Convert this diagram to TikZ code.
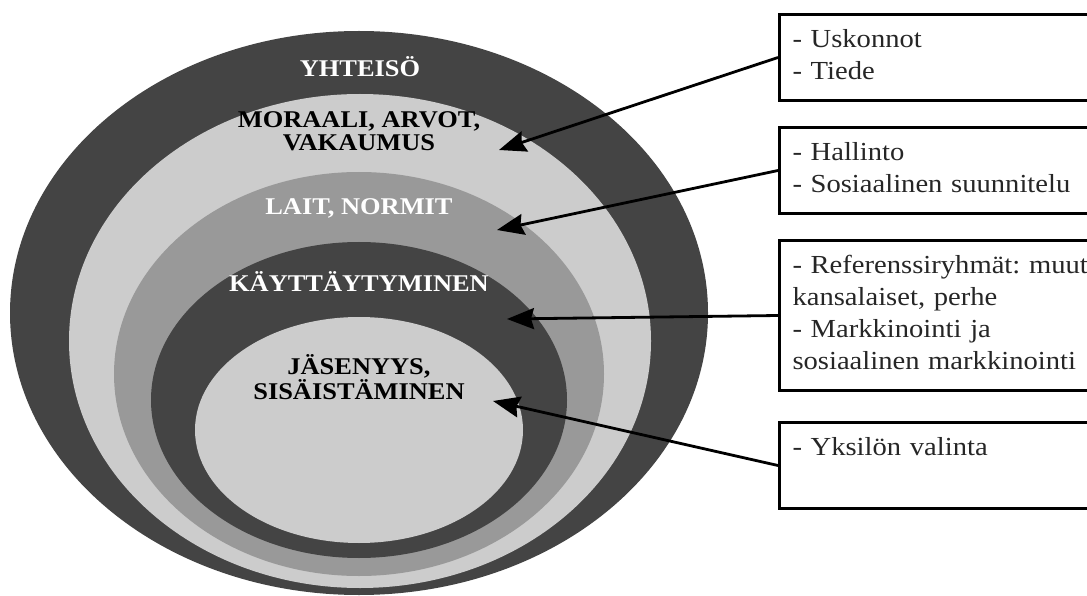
\documentclass[tikz,border=0pt]{standalone}
\usepackage{fontspec}
\setmainfont{Liberation Serif}[FakeStretch=1.1]
\usetikzlibrary{arrows.meta}
\definecolor{ringdark}{RGB}{68,68,68}
\definecolor{ringmid}{RGB}{153,153,153}
\definecolor{ringlight}{RGB}{204,204,204}
\frenchspacing
\begin{document}
\begin{tikzpicture}[x=1pt,y=-1pt]
	\tikzstyle{ringtext}=[font=\bfseries\fontsize{24}{23}\selectfont,align=center,inner sep=0pt]
	\tikzstyle{infobox}=[rectangle,draw,line width=3pt,anchor=north west,align=left,text width=320pt,inner xsep=13pt,inner ysep=11pt,font=\fontsize{26}{32}\selectfont,text=black!85]
	\tikzstyle{pointer}=[line width=2.8pt,-{Stealth[length=27pt,width=21pt,inset=3pt]}]
	\useasboundingbox (0,0) rectangle (1087,596);
	\clip (0,0) rectangle (1087,596);
	\fill[ringdark] (359,313) ellipse [x radius=349,y radius=282];
	\fill[ringlight] (360,341) ellipse [x radius=291,y radius=247];
	\fill[ringmid] (359,374) ellipse [x radius=245,y radius=202];
	\fill[ringdark] (359,400) ellipse [x radius=208,y radius=158];
	\fill[ringlight] (359,430) ellipse [x radius=164,y radius=113];
	\node[ringtext,text=white] (yhteiso) at (360,67) {YHTEISÖ};
	\node[ringtext] (moraali) at (359,131) {MORAALI, ARVOT,\\VAKAUMUS};
	\node[ringtext,text=white] (lait) at (359,208) {LAIT, NORMIT};
	\node[ringtext,text=white] (kaytos) at (359,282) {KÄYTTÄYTYMINEN};
	\node[ringtext] (jasenyys) at (359,377) {JÄSENYYS,\\SISÄISTÄMINEN};
	\node[infobox] (uskonnot) at (778,13) {\strut- Uskonnot\\\strut- Tiede};
	\node[infobox] (hallinto) at (778,126) {\strut- Hallinto\\\strut- Sosiaalinen suunnitelu};
	\node[infobox] (ryhmat) at (778,239) {\strut- Referenssiryhmät: muut\\\strut kansalaiset, perhe\\\strut- Markkinointi ja\\\strut sosiaalinen markkinointi};
	\node[infobox] (valinta) at (778,421) {\strut- Yksilön valinta\\\strut};
	\coordinate (moraalitip) at (499,150);
	\coordinate (laittip) at (497,230);
	\coordinate (kaytostip) at (507,319);
	\coordinate (jasenyystip) at (493,401);
	\draw[pointer] (uskonnot.west) -- (moraalitip);
	\draw[pointer] (hallinto.west) -- (laittip);
	\draw[pointer] (ryhmat.west) -- (kaytostip);
	\draw[pointer] (valinta.west) -- (jasenyystip);
\end{tikzpicture}
\end{document}
